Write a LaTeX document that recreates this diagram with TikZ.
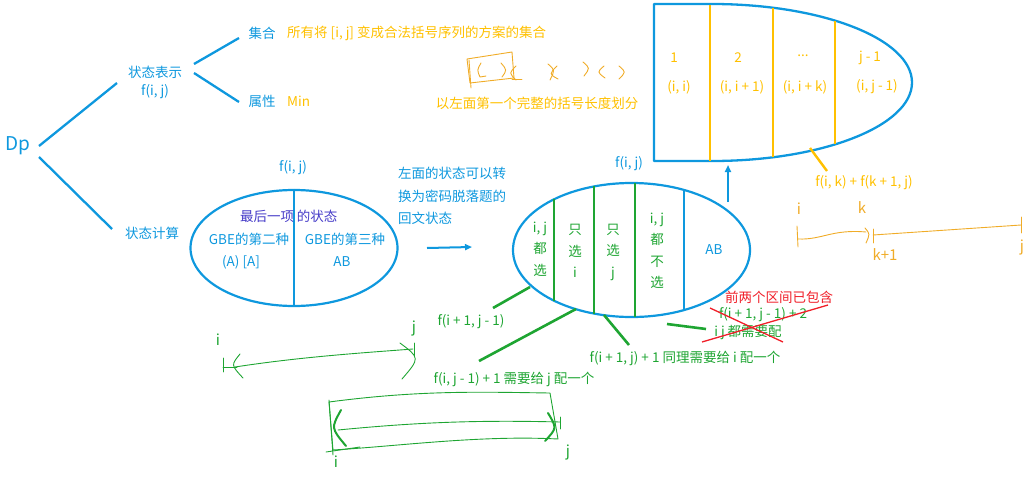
\documentclass[tikz,border=0pt]{standalone}
\usepackage{fontspec}
\setmainfont{Noto Sans CJK SC}
\usetikzlibrary{arrows.meta,shapes.geometric}
\definecolor{cblue}{RGB}{14,152,222}
\definecolor{corange}{RGB}{255,192,0}
\definecolor{chand}{RGB}{240,172,40}
\definecolor{cgreen}{RGB}{30,165,50}
\definecolor{cpurple}{RGB}{70,60,200}
\definecolor{cred}{RGB}{240,30,40}
\begin{document}
\begin{tikzpicture}[x=1pt,y=-1pt,
  txt/.style={inner sep=0pt,font=\fontsize{13.5}{16}\selectfont},
  bt/.style={txt,text=cblue},
  ot/.style={txt,text=corange},
  gt/.style={txt,text=cgreen},
  ptxt/.style={txt,text=cpurple},
  rt/.style={txt,text=cred},
  vert/.style={txt,align=center,font=\fontsize{13.5}{21.5}\selectfont},
  bline/.style={draw=cblue,line width=2.3pt},
  gline/.style={draw=cgreen,line width=2.6pt},
  oline/.style={draw=corange,line width=2.4pt},
  hand/.style={line width=0.9pt,line cap=round,line join=round},
  handt/.style={inner sep=0pt,font=\fontsize{15}{16}\selectfont},
  bigell/.style={ellipse,draw=cblue,line width=2.2pt,inner sep=0pt}
]
\useasboundingbox (0,0) rectangle (1030,477);

% ---------- left tree ----------
\node[bt,font=\fontsize{19}{22}\selectfont] (dp) at (18,146) {Dp};
\node[bt] (rep) at (155,72) {状态表示};
\node[bt] (repf) at (155,92) {f(i, j)};
\node[bt] (set) at (262,33) {集合};
\node[ot,anchor=west] (setd) at (287,33) {所有将 [i, j] 变成合法括号序列的方案的集合};
\node[bt] (attr) at (262,101) {属性};
\node[ot,anchor=west] (min) at (287,101) {Min};
\node[bt] (calc) at (152,233) {状态计算};

\coordinate (dpa) at (39,146);
\coordinate (dpb) at (39,157);
\coordinate (repa) at (117,83);
\coordinate (calca) at (112,229);
\coordinate (repb) at (194,64);
\coordinate (repc) at (194,73);
\coordinate (seta) at (239,38);
\coordinate (attra) at (239,102);
\draw[bline] (dpa) -- (repa);
\draw[bline] (dpb) -- (calca);
\draw[bline] (repb) -- (seta);
\draw[bline] (repc) -- (attra);

% ---------- left ellipse ----------
\node[bt] (lf) at (293,168) {f(i, j)};
\node[bigell,minimum width=207pt,minimum height=116pt] (le) at (294,248) {};
\draw[bline,line width=2pt] (le.north) -- (le.south);
\node[ptxt] (last1) at (267,216) {最后一项};
\node[ptxt] (last2) at (317,216) {的状态};
\node[bt] (g2) at (249,239) {GBE的第二种};
\node[bt] (g2b) at (241,262) {(A) [A]};
\node[bt] (g3) at (345,239) {GBE的第三种};
\node[bt] (g3b) at (342,262) {AB};

% ---------- note + arrow ----------
\node[bt,anchor=west] (n1) at (398,173) {左面的状态可以转};
\node[bt,anchor=west] (n2) at (398,196) {换为密码脱落题的};
\node[bt,anchor=west] (n3) at (398,218) {回文状态};
\coordinate (arra) at (427,248);
\coordinate (arrb) at (472,247);
\draw[cblue,line width=2pt,-{Triangle[length=7pt,width=6pt]}] (arra) -- (arrb);

% ---------- middle ellipse ----------
\node[bt] (mf) at (629,164) {f(i, j)};
\node[bigell,minimum width=237pt,minimum height=134pt] (me) at (631.5,250) {};
\draw[gline,line width=2.4pt] (554,199.3) -- (554,300.7);
\draw[gline,line width=2.4pt] (594,186.4) -- (594,313.6);
\draw[gline,line width=2.4pt] (635,183.1) -- (635,316.9);
\draw[bline,line width=2.2pt] (684,190) -- (684,310);
\node[vert,text=cgreen] (s1) at (540,249) {i, j\\都\\选};
\node[vert,text=cgreen] (s2) at (575,251) {只\\选\\i};
\node[vert,text=cgreen] (s3) at (613,252) {只\\选\\j};
\node[vert,text=cgreen] (s4) at (657,251) {i, j\\都\\不\\选};
\node[bt] (s5) at (714,250) {AB};

% ---------- top shape ----------
\draw[cblue,line width=2.3pt,line join=round] (654,4) -- (712,4)
  arc[start angle=90,end angle=-90,x radius=200pt,y radius=78.5pt] -- (654,161) -- cycle;
\draw[oline] (710,4.5) -- (710,160.5);
\draw[oline] (773,7.7) -- (773,157.3);
\draw[oline] (835,21) -- (835,144);
\node[ot] (t1) at (674,58) {1};
\node[ot] (t1b) at (679,87) {(i, i)};
\node[ot] (t2) at (738,58) {2};
\node[ot] (t2b) at (742,87) {(i, i + 1)};
\node[ot] (t3) at (803,56) {...};
\node[ot] (t3b) at (805,87) {(i, i + k)};
\node[ot] (t4) at (870,58) {j - 1};
\node[ot] (t4b) at (877,87) {(i, j - 1)};
\coordinate (upa) at (728,202);
\coordinate (upb) at (728,165);
\draw[cblue,line width=2pt,-{Triangle[length=7pt,width=6pt]}] (upa) -- (upb);
\node[ot] (fk) at (864,183) {f(i, k) + f(k + 1, j)};
\coordinate (fka) at (810,148);
\coordinate (fkb) at (827,171);
\draw[oline] (fka) -- (fkb);

% ---------- orange handwriting ----------
\node[ot] (div) at (537,103) {以左面第一个完整的括号长度划分};
\draw[hand,chand] (467,59) -- (512,52) -- (514,78) -- (470,83) -- cycle;
\draw[hand,chand] (512,79) -- (522,79);
\draw[hand,chand] (469,60) -- (471,88);
\draw[hand,chand] (481,63) .. controls (477,70) .. (480,77) -- (486,76);
\draw[hand,chand] (501,63) .. controls (507,70) .. (502,77);
\draw[hand,chand] (516,66) .. controls (509,73) .. (516,80);
\draw[hand,chand] (548,64) .. controls (555,70) .. (550,80);
\draw[hand,chand] (557,66) .. controls (549,74) .. (558,79);
\draw[hand,chand] (583,62) .. controls (590,68) .. (584,76);
\draw[hand,chand] (604,66) .. controls (597,72) .. (605,78);
\draw[hand,chand] (619,66) .. controls (626,72) .. (619,79);

\node[handt,text=chand] (hi) at (799,209) {i};
\node[handt,text=chand] (hk) at (862,208) {k};
\node[handt,text=chand] (hk1) at (885,255) {k+1};
\node[handt,text=chand] (hj) at (1022,247) {j};
\draw[hand,chand] (797,226) -- (798,247);
\draw[hand,chand] (798,239) .. controls (822,240) and (832,229) .. (866,232);
\draw[hand,chand] (865,228) .. controls (870,234) .. (866,243);
\draw[hand,chand] (873,229) -- (873,243);
\draw[hand,chand] (873,235) -- (1021,225);
\draw[hand,chand] (1021,217) -- (1021,233);

% ---------- green branches ----------
\coordinate (b1a) at (530,287);
\coordinate (b1b) at (493,308);
\draw[gline] (b1a) -- (b1b);
\node[gt] (l1) at (471,322) {f(i + 1, j - 1)};
\coordinate (b2a) at (576,309);
\coordinate (b2b) at (479,361);
\draw[gline] (b2a) -- (b2b);
\node[gt] (l2) at (514,379) {f(i, j - 1) + 1 需要给 j 配一个};
\coordinate (b3a) at (604,315);
\coordinate (b3b) at (629,345);
\draw[gline] (b3a) -- (b3b);
\node[gt] (l3) at (685,358) {f(i + 1, j) + 1 同理需要给 i 配一个};
\coordinate (b4a) at (667,324);
\coordinate (b4b) at (706,329);
\draw[gline] (b4a) -- (b4b);
\node[gt] (l4) at (763,315) {f(i + 1, j - 1) + 2};
\node[gt] (l4b) at (748,333) {i j 都需要配};
\node[rt] (red) at (779,297) {前两个区间已包含};
\draw[cred,line width=1.3pt] (710,308) -- (783,342);
\draw[cred,line width=1.3pt] (702,342) -- (828,305);

% ---------- green handwriting ----------
\node[handt,text=cgreen] (gi1) at (218,340) {i};
\node[handt,text=cgreen] (gj1) at (414,328) {j};
\draw[hand,cgreen] (223,358) -- (223,372);
\draw[hand,cgreen] (223,367) -- (237,367);
\draw[hand,cgreen] (240,354) .. controls (231,365) .. (243,378);
\draw[hand,cgreen] (235,367) .. controls (300,357) and (360,353) .. (413,349);
\draw[hand,cgreen] (400,343) .. controls (420,358) .. (402,379);
\draw[hand,cgreen] (414,343) -- (414,356);

\draw[hand,cgreen] (329,402) .. controls (420,390) and (480,392) .. (550,393) -- (558,439)
  .. controls (480,435) and (400,446) .. (333,450) -- cycle;
\draw[hand,cgreen] (329,400) -- (333,455);
\draw[hand,cgreen] (326,452) -- (360,447);
\draw[cgreen,line width=2pt,line cap=round] (341,410) .. controls (331,428) .. (346,446);
\draw[cgreen,line width=2pt,line cap=round] (548,413) .. controls (557,428) .. (545,441);
\draw[hand,cgreen] (338,430) .. controls (420,422) and (480,420) .. (560,422);
\draw[hand,cgreen] (560,417) -- (560,429);
\node[handt,text=cgreen] (gi2) at (336,462) {i};
\node[handt,text=cgreen] (gj2) at (568,452) {j};
\end{tikzpicture}
\end{document}
